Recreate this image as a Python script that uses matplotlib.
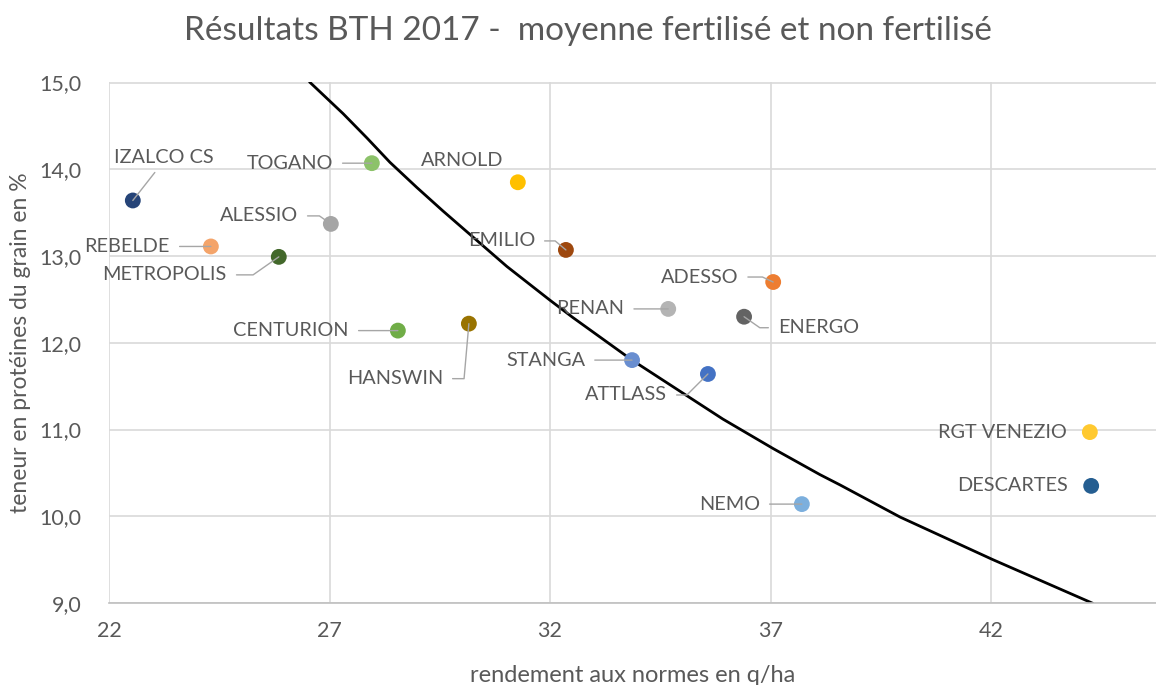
import matplotlib
matplotlib.use('Agg')
import matplotlib.pyplot as plt

# varieties: yield (q/ha) and protein content (%)
varieties = ['IZALCO CS', 'REBELDE', 'METROPOLIS', 'ALESSIO', 'TOGANO', 'CENTURION',
             'HANSWIN', 'ARNOLD', 'EMILIO', 'RENAN', 'STANGA', 'ATTLASS', 'ADESSO',
             'ENERGO', 'NEMO', 'RGT VENEZIO', 'DESCARTES']
rendement = [22.54, 24.31, 25.85, 27.03, 27.96, 28.55, 30.16, 31.27, 32.36, 34.68,
             33.86, 35.58, 37.06, 36.40, 37.71, 44.24, 44.27]
proteines = [13.64, 13.11, 12.99, 13.37, 14.07, 12.14, 12.22, 13.85, 13.07, 12.39,
             11.80, 11.64, 12.70, 12.30, 10.14, 10.97, 10.35]
colors = ['#264478', '#F4A46A', '#43682B', '#A5A5A5', '#8CC26A', '#70AD47',
          '#997300', '#FFC000', '#9E480E', '#B4B4B4', '#698ED0', '#4472C4', '#ED7D31',
          '#636363', '#7CAFDD', '#FFC930', '#255E91']

# reference curve
courbe_x = [26.56, 27.31, 27.85, 28.37, 28.98, 29.57, 30.34, 31.02, 32.0, 32.52,
            33.86, 34.95, 35.92, 37.06, 38.12, 38.58, 39.94, 42.04, 44.29]
courbe_y = [15.0, 14.64, 14.36, 14.08, 13.79, 13.52, 13.18, 12.88, 12.49, 12.29,
            11.80, 11.44, 11.12, 10.78, 10.48, 10.36, 9.99, 9.50, 9.0]

# label placement: offset in pixels (dx right, dy up), alignment, leader style
label_pos = {
    'IZALCO CS': (31, 43, 'center', None),
    'REBELDE': (-41, 0, 'right', 'straight'),
    'METROPOLIS': (-52, -18, 'right', 'angle,angleA=0,angleB=35,rad=0'),
    'ALESSIO': (-33, 8, 'right', 'angle,angleA=0,angleB=-35,rad=0'),
    'TOGANO': (-39, 0, 'right', 'straight'),
    'CENTURION': (-49, 0, 'right', 'straight'),
    'HANSWIN': (-26, -55, 'right', 'angle,angleA=0,angleB=85,rad=0'),
    'ARNOLD': (-56, 22, 'center', None),
    'EMILIO': (-31, 9, 'right', 'angle,angleA=0,angleB=-40,rad=0'),
    'RENAN': (-44, 0, 'right', 'straight'),
    'STANGA': (-47, 0, 'right', 'straight'),
    'ATTLASS': (-41, -21, 'right', 'angle,angleA=0,angleB=45,rad=0'),
    'ADESSO': (-35, 5, 'right', 'angle,angleA=0,angleB=-25,rad=0'),
    'ENERGO': (34, -11, 'left', 'angle,angleA=0,angleB=-35,rad=0'),
    'NEMO': (-42, 0, 'right', 'straight'),
    'RGT VENEZIO': (-23, 0, 'right', None),
    'DESCARTES': (-23, 0, 'right', None),
}

plt.rcParams['font.family'] = ['Lato', 'DejaVu Sans']
txt = '#595959'
grid = '#D9D9D9'

fig = plt.figure(figsize=(11.56, 6.85), dpi=100)
ax = fig.add_axes([109/1156, 1-603/685, 1-109/1156, (603-82.5)/685])

ax.plot(courbe_x, courbe_y, color='black', lw=2, zorder=2)
ax.scatter(rendement, proteines, s=130, c=colors, zorder=3, linewidths=0)

px2pt = 72/100.
for name, x, y in zip(varieties, rendement, proteines):
    dx, dy, ha, style = label_pos[name]
    if style is None:
        ax.annotate(name, (x, y), xytext=(dx*px2pt, dy*px2pt), textcoords='offset points',
                    ha=ha, va='center', fontsize=14.3, color=txt, zorder=4)
    else:
        cs = 'arc3,rad=0' if style == 'straight' else style
        ax.annotate(name, (x, y), xytext=(dx*px2pt, dy*px2pt), textcoords='offset points',
                    ha=ha, va='center', fontsize=14.3, color=txt, zorder=4,
                    arrowprops=dict(arrowstyle='-', color='#A6A6A6', lw=1,
                                    shrinkA=5, shrinkB=0, connectionstyle=cs))

# IZALCO leader line goes diagonally from the label down to the point
ax.annotate('', (rendement[0], proteines[0]), xytext=(22*px2pt, 28*px2pt), textcoords='offset points',
            arrowprops=dict(arrowstyle='-', color='#A6A6A6', lw=1, shrinkA=0, shrinkB=0))

ax.set_xlim(22, 45.74)
ax.set_ylim(9, 15)
ax.set_xticks([22, 27, 32, 37, 42])
ax.set_yticks([9, 10, 11, 12, 13, 14, 15])
ax.set_yticklabels(['9,0', '10,0', '11,0', '12,0', '13,0', '14,0', '15,0'])
ax.grid(True, color=grid, lw=1.2)
ax.set_axisbelow(True)
for s in ['top', 'right', 'left']:
    ax.spines[s].set_visible(False)
ax.spines['bottom'].set_color('#BFBFBF')
ax.spines['bottom'].set_linewidth(1.2)
ax.tick_params(length=0, labelsize=15.5, colors=txt)
ax.tick_params(axis='y', pad=20)
ax.tick_params(axis='x', pad=13)

ax.set_xlabel('rendement aux normes en q/ha', fontsize=17, color=txt, labelpad=17)
ax.set_ylabel('teneur en protéines du grain en %', fontsize=16.5, color=txt, labelpad=6)
fig.text(0.509, 0.955, 'Résultats BTH 2017 -  moyenne fertilisé et non fertilisé',
         ha='center', va='center', fontsize=24, color=txt)

fig.savefig('out.png', dpi=100)
